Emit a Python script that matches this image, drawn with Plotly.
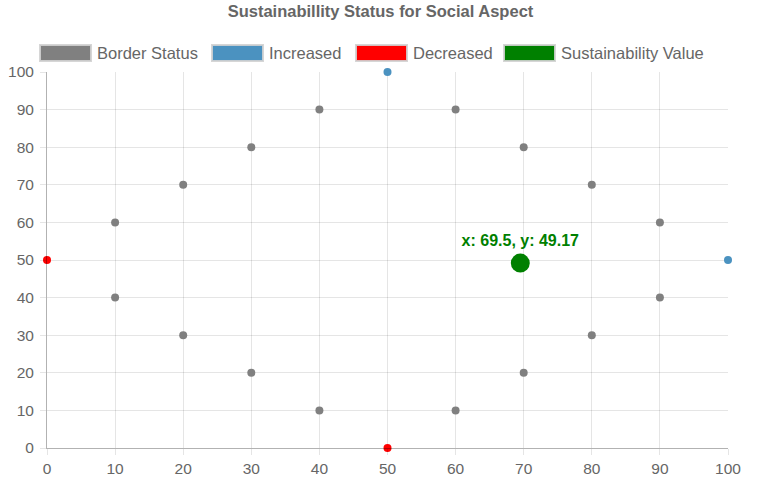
import plotly.graph_objects as go

# data
border_x = [10, 20, 30, 40, 60, 70, 80, 90, 90, 80, 70, 60, 40, 30, 20, 10]
border_y = [60, 70, 80, 90, 90, 80, 70, 60, 40, 30, 20, 10, 10, 20, 30, 40]
increased_x = [50, 100]
increased_y = [100, 50]
decreased_x = [0, 50]
decreased_y = [50, 0]
value_x = [69.5]
value_y = [49.17]
tick_vals = [0, 10, 20, 30, 40, 50, 60, 70, 80, 90, 100]

GREY = "#808080"
BLUE = "#4b92c0"
RED = "#ff0000"
GREEN = "#008000"
TEXT = "#666666"
FONT = "Liberation Sans, Arial"

W, H = 761, 477
ML, MR, MT, MB = 47, 33, 72, 29
PW, PH = W - ML - MR, H - MT - MB


def px_x(p):
    return (p - ML) / PW


def px_y(p):
    return (H - MB - p) / PH


fig = go.Figure()

fig.add_trace(go.Scatter(x=border_x, y=border_y, mode="markers", name="Border Status",
                         marker=dict(color=GREY, size=8), cliponaxis=False))
fig.add_trace(go.Scatter(x=increased_x, y=increased_y, mode="markers", name="Increased",
                         marker=dict(color=BLUE, size=8), cliponaxis=False))
fig.add_trace(go.Scatter(x=decreased_x, y=decreased_y, mode="markers", name="Decreased",
                         marker=dict(color=RED, size=8), cliponaxis=False))
fig.add_trace(go.Scatter(
    x=value_x, y=value_y, mode="markers+text", name="Sustainability Value",
    marker=dict(color=GREEN, size=19),
    text=[f"x: {value_x[0]}, y: {value_y[0]}"],
    textposition="top center",
    textfont=dict(family=FONT, size=16, color=GREEN, weight="bold"),
    cliponaxis=False,
))

# chart.js style legend boxes drawn by hand
legend_items = [
    ("Border Status", GREY, 40),
    ("Increased", BLUE, 212),
    ("Decreased", RED, 356),
    ("Sustainability Value", GREEN, 504),
]
shapes = []
annotations = []
for label, color, left in legend_items:
    shapes.append(dict(type="rect", xref="paper", yref="paper",
                       x0=px_x(left), x1=px_x(left + 51), y0=px_y(61), y1=px_y(45),
                       fillcolor=color, line=dict(color="rgba(210,210,210,0.9)", width=2)))
    annotations.append(dict(xref="paper", yref="paper", x=px_x(left + 55), y=px_y(53),
                            xanchor="left", yanchor="middle", text=label, showarrow=False,
                            font=dict(family=FONT, size=16.5, color=TEXT)))

axis_common = dict(
    range=[0, 100], tickvals=tick_vals, fixedrange=True, automargin=False,
    showgrid=True, gridcolor="rgba(0,0,0,0.1)", gridwidth=1,
    zeroline=False, showline=True, linecolor="rgba(0,0,0,0.3)", linewidth=1,
    ticks="outside", ticklen=6, tickcolor="rgba(0,0,0,0.1)",
    tickfont=dict(family=FONT, size=15.5, color=TEXT),
)

fig.update_layout(
    width=W, height=H,
    margin=dict(l=ML, r=MR, t=MT, b=MB),
    paper_bgcolor="white", plot_bgcolor="white",
    showlegend=False,
    title=dict(text="<b>Sustainabillity Status for Social Aspect</b>", x=0.5, xanchor="center",
               y=1 - 11 / H, yanchor="middle",
               font=dict(family=FONT, size=16.5, color=TEXT)),
    xaxis=dict(**axis_common, ticklabelstandoff=0),
    yaxis=dict(**axis_common, ticklabelstandoff=3),
    shapes=shapes,
    annotations=annotations,
)

# drop the default 8px body margin so the figure sits at the window's corner
fig.write_html("out.html", config={"displayModeBar": False},
               post_script="document.body.style.margin='0px';")
